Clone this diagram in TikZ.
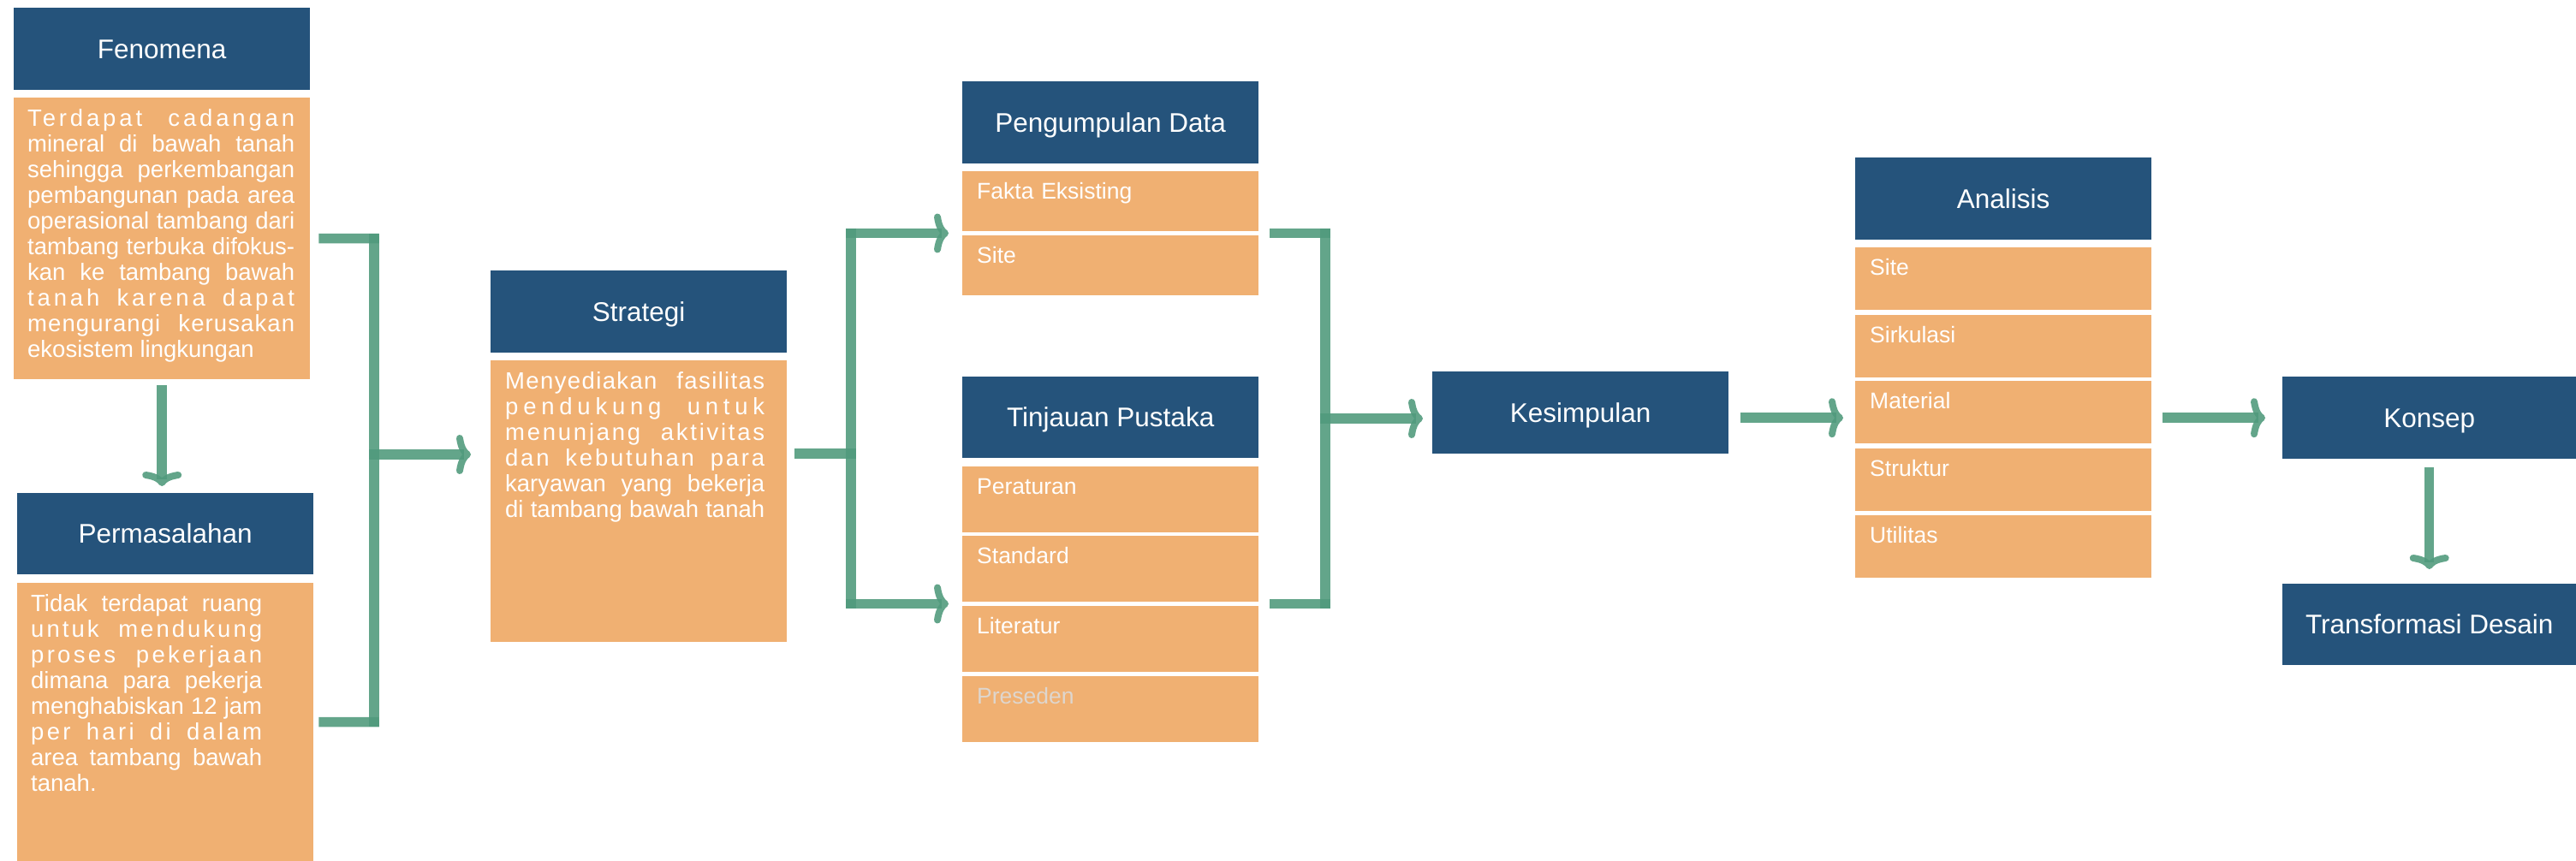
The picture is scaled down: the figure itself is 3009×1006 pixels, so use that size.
\documentclass[tikz,border=0pt]{standalone}
\usepackage{fontspec}
\setmainfont{Liberation Sans}
\usetikzlibrary{arrows.meta,calc}

\definecolor{headblue}{RGB}{37,83,123}
\definecolor{boxorange}{RGB}{240,176,114}
\definecolor{linkgreen}{RGB}{80,154,124}
\definecolor{fadedtext}{RGB}{222,214,206}

\newcommand{\jline}[2][0]{\makebox[\linewidth][s]{\addfontfeature{LetterSpace=#1}#2}\par}
\newcommand{\lline}[1]{#1\par}

\tikzset{
  headbox/.style={fill=headblue, text=white, anchor=north west, inner sep=0pt,
    minimum width=346pt, text height=22.5pt, text depth=0pt,
    font=\fontsize{31.5}{36}\selectfont},
  bodybox/.style={fill=boxorange, text=white, anchor=north west, inner xsep=0pt,
    inner ysep=13pt, font=\fontsize{27.5}{30}\selectfont},
  itembox/.style={fill=boxorange, text=white, anchor=north west, inner xsep=17pt,
    inner ysep=0pt, text width=312pt, align=left, text height=32pt, text depth=#1,
    font=\fontsize{26.5}{30}\selectfont},
  barline/.style={draw=linkgreen, draw opacity=0.89, line width=11.5pt},
  flowarrow/.style={barline, -{Computer Modern Rightarrow[length=17pt, width=46pt, line width=8pt]}},
}

\begin{document}
\begin{tikzpicture}[x=1pt, y=-1pt]
  \useasboundingbox (0,0) rectangle (3009,1006);

  \node[headbox, minimum height=96pt] (fenHead) at (16,9) {Fenomena};
  \node[bodybox] (fenBody) at (16,114) {\hspace*{16pt}\parbox[t][303pt][t]{312pt}{%
    \jline[14]{Terdapat cadangan}
    \jline{mineral di bawah tanah}
    \jline{sehingga perkembangan}
    \jline{pembangunan pada area}
    \jline{operasional tambang dari}
    \jline{tambang terbuka difokus-}
    \jline{kan ke tambang bawah}
    \jline[14]{tanah karena dapat}
    \jline[4]{mengurangi kerusakan}
    \lline{ekosistem lingkungan}}\hspace*{18pt}};
  \node[headbox, minimum height=95pt] (permHead) at (20,576) {Permasalahan};
  \node[bodybox] (permBody) at (20,681) {\hspace*{16pt}\parbox[t][299pt][t]{270pt}{%
    \jline{Tidak terdapat ruang}
    \jline[11]{untuk mendukung}
    \jline[12]{proses pekerjaan}
    \jline{dimana para pekerja}
    \jline{menghabiskan 12 jam}
    \jline[12]{per hari di dalam}
    \jline{area tambang bawah}
    \lline{tanah.}}\hspace*{60pt}};

  \node[headbox, minimum height=96pt] (stratHead) at (573,316) {Strategi};
  \node[bodybox] (stratBody) at (573,421) {\hspace*{17pt}\parbox[t][303pt][t]{303pt}{%
    \jline[5]{Menyediakan fasilitas}
    \jline[21]{pendukung untuk}
    \jline[10]{menunjang aktivitas}
    \jline[10]{dan kebutuhan para}
    \jline{karyawan yang bekerja}
    \jline{di tambang bawah tanah}}\hspace*{26pt}};

  \node[headbox, minimum height=96pt] (pengHead) at (1124,95) {Pengumpulan Data};
  \node[itembox=38pt] (fakta) at (1124,200) {Fakta Eksisting};
  \node[itembox=38pt] (site) at (1124,275) {Site};
  \node[headbox, minimum height=95pt] (tinjHead) at (1124,440) {Tinjauan Pustaka};
  \node[itembox=45pt] (peraturan) at (1124,545) {Peraturan};
  \node[itembox=45pt] (standard) at (1124,626) {Standard};
  \node[itembox=45pt] (literatur) at (1124,708) {Literatur};
  \node[itembox=45pt, text=fadedtext] (preseden) at (1124,790) {Preseden};

  \node[headbox, minimum height=96pt] (kesimpulan) at (1673,434) {Kesimpulan};

  \node[headbox, minimum height=96pt] (anaHead) at (2167,184) {Analisis};
  \node[itembox=41pt] (anaSite) at (2167,289) {Site};
  \node[itembox=41pt] (sirkulasi) at (2167,368) {Sirkulasi};
  \node[itembox=41pt] (material) at (2167,445) {Material};
  \node[itembox=41pt] (struktur) at (2167,524) {Struktur};
  \node[itembox=41pt] (utilitas) at (2167,602) {Utilitas};

  \node[headbox, minimum width=343pt, minimum height=96pt] (konsep) at (2666,440) {Konsep};
  \node[headbox, minimum width=343pt, minimum height=95pt] (transformasi) at (2666,682) {Transformasi Desain};

  \coordinate (b1t) at (437,278.5);
  \coordinate (b1b) at (437,843.5);
  \coordinate (b1m) at (437,531);
  \coordinate (b2t) at (994,272.5);
  \coordinate (b2b) at (994,705.5);
  \coordinate (b2m) at (994,530);
  \coordinate (b3t) at (1548,272.5);
  \coordinate (b3b) at (1548,705.5);
  \coordinate (b3m) at (1548,489);

  \draw[flowarrow, shorten <=7pt, shorten >=8pt] (fenBody.south) -- (fenBody.south |- permHead.north);

  \draw[barline, shorten <=10pt] (fenBody.east) -- ([xshift=5.75pt]b1t);
  \draw[barline, shorten <=6pt] (permBody.east) -- ([xshift=5.75pt]b1b);
  \draw[barline] ([yshift=5.75pt]b1t) -- ([yshift=-5.75pt]b1b);
  \draw[flowarrow, shorten >=23pt] ([xshift=-5.75pt]b1m) -- (b1m -| stratBody.west);

  \draw[barline, shorten <=9pt] (b2m -| stratBody.east) -- ([xshift=5.75pt]b2m);
  \draw[barline] ([yshift=5.75pt]b2t) -- ([yshift=-5.75pt]b2b);
  \draw[flowarrow, shorten >=16pt] ([xshift=-5.75pt]b2t) -- (b2t -| fakta.west);
  \draw[flowarrow, shorten >=16pt] ([xshift=-5.75pt]b2b) -- (b2b -| literatur.west);

  \draw[barline, shorten <=13pt] (b3t -| site.east) -- ([xshift=5.75pt]b3t);
  \draw[barline, shorten <=13pt] (b3b -| literatur.east) -- ([xshift=5.75pt]b3b);
  \draw[barline] ([yshift=5.75pt]b3t) -- ([yshift=-5.75pt]b3b);
  \draw[flowarrow, shorten >=11pt] ([xshift=-5.75pt]b3m) -- (b3m -| kesimpulan.west);

  \draw[flowarrow, shorten <=14pt, shorten >=14pt] ([yshift=-6pt]kesimpulan.east) -- ([yshift=-6pt]kesimpulan.east -| material.west);
  \draw[flowarrow, shorten <=13pt, shorten >=20pt] (konsep.west -| material.east) -- (konsep.west);
  \draw[flowarrow, shorten <=10pt, shorten >=17pt] (konsep.south) -- (transformasi.north);
\end{tikzpicture}
\end{document}
